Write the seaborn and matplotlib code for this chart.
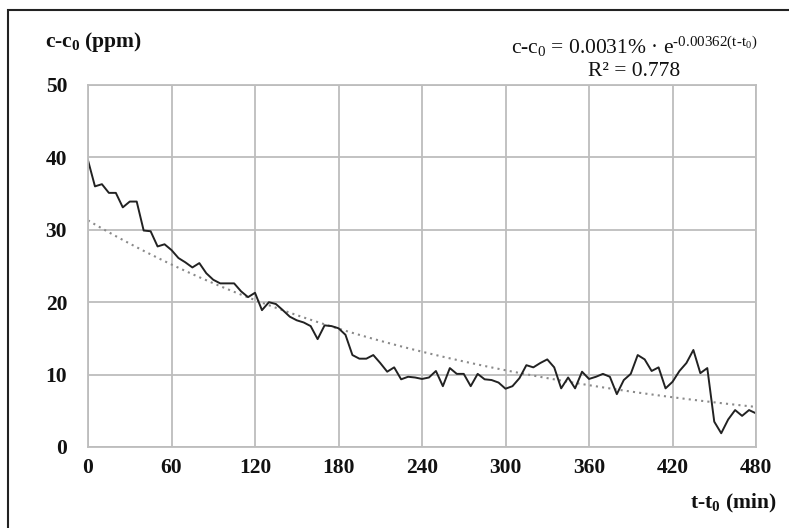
import numpy as np
import pandas as pd
import matplotlib
matplotlib.use("Agg")
import matplotlib.pyplot as plt
from matplotlib.patches import Rectangle
import seaborn as sns

# 数据：每 5 分钟一个点
t_min = list(range(0, 485, 5))
c_ppm = [39.6, 36.0, 36.3, 35.1, 35.1, 33.1, 33.9, 33.9, 29.9, 29.8,
         27.7, 28.0, 27.2, 26.1, 25.5, 24.8, 25.4, 24.0, 23.1, 22.6,
         22.6, 22.6, 21.5, 20.7, 21.3, 18.9, 20.0, 19.75, 18.9, 18.0,
         17.5, 17.2, 16.7, 14.9, 16.8, 16.7, 16.4, 15.5, 12.7, 12.2,
         12.2, 12.7, 11.6, 10.4, 11.0, 9.35, 9.7, 9.6, 9.4, 9.6,
         10.5, 8.4, 10.9, 10.1, 10.1, 8.4, 10.1, 9.35, 9.25, 8.9,
         8.05, 8.4, 9.5, 11.3, 11.0, 11.6, 12.1, 11.0, 8.1, 9.6,
         8.1, 10.4, 9.4, 9.7, 10.1, 9.7, 7.3, 9.25, 10.1, 12.7,
         12.1, 10.5, 11.0, 8.1, 9.0, 10.5, 11.6, 13.4, 10.2, 10.9,
         3.5, 1.9, 3.8, 5.1, 4.3, 5.1, 4.65]
x_ticks = [0, 60, 120, 180, 240, 300, 360, 420, 480]
y_ticks = [0, 10, 20, 30, 40, 50]

df = pd.DataFrame({'t': t_min, 'c': c_ppm})

# 指数趋势线（对数线性拟合）
b, log_a = np.polyfit(df['t'], np.log(df['c']), 1)
df['trend'] = np.exp(log_a) * np.exp(b * df['t'])

sns.set_theme(style="whitegrid")
plt.rcParams['font.family'] = ['Liberation Serif', 'DejaVu Serif']
plt.rcParams['mathtext.default'] = 'regular'

fig = plt.figure(figsize=(7.89, 5.28), dpi=100)
ax = fig.add_axes([88 / 789, 1 - 447 / 528, (756 - 88) / 789, (447 - 85) / 528])

grid_c = '#bdbdbd'
sns.lineplot(data=df, x='t', y='trend', ax=ax, color='#8a8a8a', lw=1.5,
             linestyle=(0, (1, 2)))
sns.lineplot(data=df, x='t', y='c', ax=ax, color='#222222', lw=1.4)

ax.set_xlim(0, 480)
ax.set_ylim(0, 50)
ax.set_xticks(x_ticks)
ax.set_yticks(y_ticks)
ax.grid(True, color=grid_c, lw=1.3)
for s in ax.spines.values():
    s.set_color(grid_c)
    s.set_linewidth(1.3)
ax.tick_params(axis='both', length=0, labelsize=15.5, colors='#111111')
ax.tick_params(axis='y', pad=15)
ax.tick_params(axis='x', pad=8)
for lab in ax.get_xticklabels() + ax.get_yticklabels():
    lab.set_fontweight('bold')
ax.set_xlabel('')
ax.set_ylabel('')

# 轴标题
fig.text(45 / 789, 1 - 42 / 528, 'c-c$_0$ (ppm)', fontsize=15.5, fontweight='bold',
         ha='left', va='center', color='#111111')
fig.text(776 / 789, 1 - 503 / 528, 't-t$_0$ (min)', fontsize=15.5, fontweight='bold',
         ha='right', va='center', color='#111111')

# 公式
fig.text(634 / 789, 1 - 47 / 528,
         'c-c$_0$ = 0.0031% · e$^{‐0.00362(t‐t_0)}$',
         fontsize=15.5, ha='center', va='center', color='#111111')
fig.text(634 / 789, 1 - 72 / 528, 'R² = 0.778', fontsize=15.5,
         ha='center', va='center', color='#111111')

# 外框（只有左边和上边可见）
fig.patches.append(Rectangle((8 / 789, -0.2), 1.5, 1.2 - 10 / 528,
                             transform=fig.transFigure, fill=False,
                             edgecolor='#222222', lw=1.5))

fig.savefig('out.png', dpi=100)
